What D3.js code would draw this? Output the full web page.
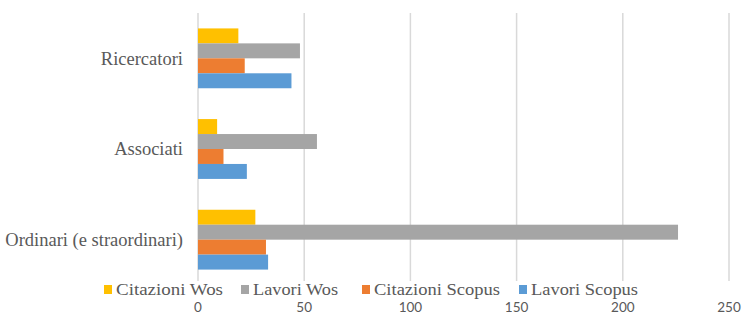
<!DOCTYPE html>
<html><head><meta charset="utf-8">
<script src="https://cdn.jsdelivr.net/npm/d3@7"></script>
<style>body{margin:0;background:#fff}</style>
</head><body>
<svg id="c" width="744" height="315"></svg>
<script>
const categories = ["Ricercatori", "Associati", "Ordinari (e straordinari)"];
const seriesNames = ["Citazioni Wos", "Lavori Wos", "Citazioni Scopus", "Lavori Scopus"];
const citazioniWos = [19, 9, 27];
const lavoriWos = [48, 56, 226];
const citazioniScopus = [22, 12, 32];
const lavoriScopus = [44, 23, 33];
const xTicks = [0, 50, 100, 150, 200, 250];
const colors = ["#FFC000", "#A5A5A5", "#ED7D31", "#5B9BD5"];

const seriesValues = [citazioniWos, lavoriWos, citazioniScopus, lavoriScopus];
const svg = d3.select("#c");
const x = d3.scaleLinear().domain([0, 250]).range([198, 729]);
const y = d3.scaleBand().domain(categories).range([13, 285]).paddingInner(0.34).paddingOuter(0.17);
const y1 = d3.scaleBand().domain(seriesNames).range([0, y.bandwidth()]);

// gridlines
svg.append("g").selectAll("line").data(xTicks).join("line")
  .attr("x1", d => x(d)).attr("x2", d => x(d))
  .attr("y1", 13).attr("y2", 281)
  .attr("stroke", "#D9D9D9").attr("stroke-width", 1.5);

// bars
const g = svg.append("g");
categories.forEach((c, ci) => {
  seriesNames.forEach((s, si) => {
    g.append("rect")
      .attr("x", x(0))
      .attr("y", y(c) + y1(s))
      .attr("width", x(seriesValues[si][ci]) - x(0))
      .attr("height", y1.bandwidth())
      .attr("fill", colors[si]);
  });
});

// category labels
svg.append("g").selectAll("text").data(categories).join("text")
  .attr("x", 183).attr("y", d => y(d) + y.bandwidth() / 2)
  .attr("dy", "0.35em").attr("text-anchor", "end")
  .attr("font-family", "Liberation Serif").attr("font-size", 18.5)
  .attr("fill", "#595959")
  .text(d => d);

// x tick labels
svg.append("g").selectAll("text").data(xTicks).join("text")
  .attr("x", d => x(d)).attr("y", 312)
  .attr("text-anchor", "middle")
  .attr("font-family", "Lato").attr("font-size", 13.5)
  .attr("fill", "#595959")
  .text(d => d);

// legend
const legX = [104, 241, 362, 519];
const legW = [107, 85, 126, 107];
const lg = svg.append("g");
seriesNames.forEach((s, i) => {
  lg.append("rect").attr("x", legX[i]).attr("y", 285).attr("width", 8).attr("height", 9).attr("fill", colors[i]);
  lg.append("text").attr("x", legX[i] + 12).attr("y", 295)
    .attr("font-family", "Liberation Serif").attr("font-size", 16)
    .attr("fill", "#595959")
    .attr("textLength", legW[i]).attr("lengthAdjust", "spacingAndGlyphs")
    .text(s);
});
</script>
</body></html>
